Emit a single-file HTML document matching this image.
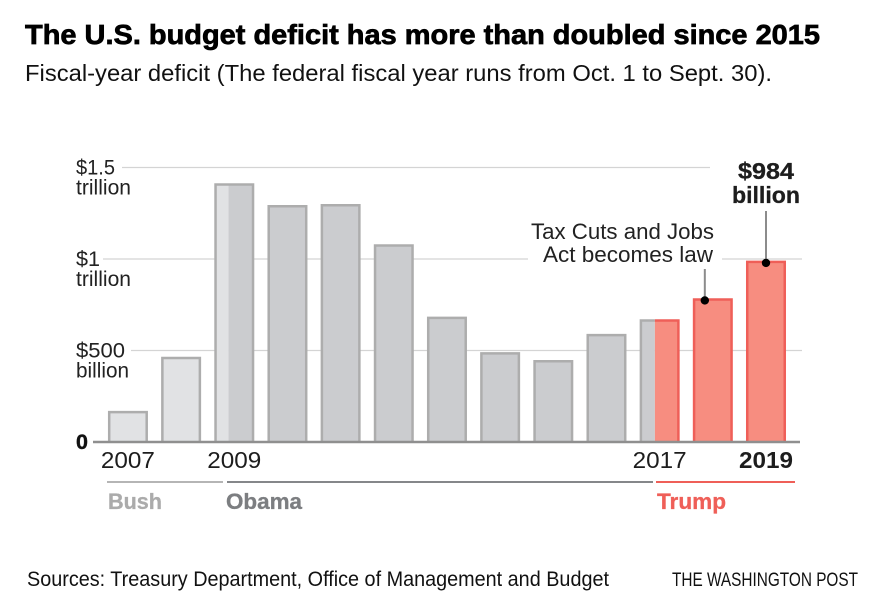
<!DOCTYPE html>
<html lang="en">
<head>
<meta charset="utf-8">
<title>U.S. budget deficit</title>
<style>
html,body{margin:0;padding:0;background:#fff;}
body{width:887px;height:612px;overflow:hidden;}
svg{display:block;font-family:"Liberation Sans",sans-serif;}
</style>
</head>
<body>
<svg id="chart" xmlns="http://www.w3.org/2000/svg" width="887" height="612" viewBox="0 0 887 612">
  <rect width="887" height="612" fill="#fff"/>
  <text x="25" y="44" font-size="27.5" font-weight="700" fill="#000" stroke="#000" stroke-width="0.7" textLength="795" lengthAdjust="spacingAndGlyphs">The U.S. budget deficit has more than doubled since 2015</text>
  <text x="25" y="81" font-size="23.5" fill="#111" textLength="747" lengthAdjust="spacingAndGlyphs">Fiscal-year deficit (The federal fiscal year runs from Oct. 1 to Sept. 30).</text>
  <g id="grid"></g>
  <g id="bars"></g>
  <g id="axis"></g>
  <line x1="107" x2="223" y1="482" y2="482" stroke="#b5b5b5" stroke-width="2"/>
  <line x1="227" x2="653" y1="482" y2="482" stroke="#85878a" stroke-width="2"/>
  <line x1="656" x2="795" y1="482" y2="482" stroke="#ef5f58" stroke-width="2"/>
  <text x="108" y="509" font-size="22" font-weight="700" fill="#ababab" stroke="#ababab" stroke-width="0.3" textLength="54" lengthAdjust="spacingAndGlyphs">Bush</text>
  <text x="226" y="509" font-size="22" font-weight="700" fill="#7c7e81" stroke="#7c7e81" stroke-width="0.3" textLength="76" lengthAdjust="spacingAndGlyphs">Obama</text>
  <text x="657" y="509" font-size="22" font-weight="700" fill="#ef5f58" stroke="#ef5f58" stroke-width="0.3" textLength="69" lengthAdjust="spacingAndGlyphs">Trump</text>
  <g id="annotations"></g>
  <text x="27" y="586" font-size="21" fill="#111" textLength="582" lengthAdjust="spacingAndGlyphs">Sources: Treasury Department, Office of Management and Budget</text>
  <text x="672" y="586" font-size="19" fill="#111" textLength="186" lengthAdjust="spacingAndGlyphs">THE WASHINGTON POST</text>
</svg>
<script>
const years = [2007, 2008, 2009, 2010, 2011, 2012, 2013, 2014, 2015, 2016, 2017, 2018, 2019];
const deficits = [163, 459, 1407, 1288, 1294, 1074, 678, 484, 441, 584, 664, 779, 984];
const gridValues = [500, 1000, 1500];
const tickTop = ['$500', '$1', '$1.5'];
const tickBottom = ['billion', 'trillion', 'trillion'];
const labeledYears = [2007, 2009, 2017, 2019];

const NS = 'http://www.w3.org/2000/svg';
const y0 = 442, pxPerBillion = 183 / 1000;
const x0 = 109.2, step = 53.17, barW = 37.5, strokeW = 2.5;
const yScale = v => y0 - v * pxPerBillion;
const xScale = yr => x0 + (yr - years[0]) * step;

function make(tag, parent, attrs, text) {
  const el = document.createElementNS(NS, tag);
  for (const k in attrs) el.setAttribute(k, attrs[k]);
  if (text !== undefined) el.textContent = text;
  parent.appendChild(el);
  return el;
}
const grid = document.getElementById('grid');
const bars = document.getElementById('bars');
const axis = document.getElementById('axis');
const notes = document.getElementById('annotations');

const gridSpans = [[[131, 802]], [[103, 528], [722, 802]], [[122, 710]]];
const topWidths = [49, 24, 39];
const bottomWidths = [53, 55, 55];
gridValues.forEach((v, i) => {
  gridSpans[i].forEach(s => {
    const l = make('line', grid, {x1: s[0], x2: s[1], y1: yScale(v), y2: yScale(v), stroke: '#d4d4d4', 'stroke-width': 1.3});
    
    
  });
  const t1 = make('text', axis, {x: 76, y: yScale(v) + 7, 'font-size': 21, fill: '#222', textLength: topWidths[i], lengthAdjust: 'spacingAndGlyphs'}, tickTop[i]);
  
  
  const t2 = make('text', axis, {x: 76, y: yScale(v) + 27, 'font-size': 21, fill: '#222', textLength: bottomWidths[i], lengthAdjust: 'spacingAndGlyphs'}, tickBottom[i]);
  
  
});

const colors = {
  bush: ['#e1e2e4', '#adadad'],
  obama: ['#cbcccf', '#adadad'],
  trump: ['#f78d80', '#ef5f58']
};
function segment(x, w, top, fill) {
  const r = make('rect', bars, {x: x, y: top, width: w, height: y0 - top, fill: fill});
  
  
}
function outline(x, top, color) {
  const p = make('path', bars, {d: 'M' + x + ' ' + y0 + 'V' + top + 'H' + (x + barW) + 'V' + y0, fill: 'none', stroke: color, 'stroke-width': strokeW});
  
  
}
years.forEach((yr, i) => {
  const x = xScale(yr), top = yScale(deficits[i]);
  if (yr < 2009) {
    segment(x, barW, top, colors.bush[0]);
    outline(x, top, colors.bush[1]);
  } else if (yr === 2009) {
    segment(x, 13, top, colors.bush[0]);
    segment(x + 13, barW - 13, top, colors.obama[0]);
    outline(x, top, colors.obama[1]);
  } else if (yr === 2017) {
    segment(x, 14, top, colors.obama[0]);
    segment(x + 14, barW - 14, top, colors.trump[0]);
    const g = make('path', bars, {d: 'M' + x + ' ' + y0 + 'V' + top + 'H' + (x + 14), fill: 'none', stroke: colors.obama[1], 'stroke-width': strokeW});
    
    
    const r = make('path', bars, {d: 'M' + (x + 14) + ' ' + top + 'H' + (x + barW) + 'V' + y0, fill: 'none', stroke: colors.trump[1], 'stroke-width': strokeW});
    
    
  } else if (yr > 2017) {
    segment(x, barW, top, colors.trump[0]);
    outline(x, top, colors.trump[1]);
  } else {
    segment(x, barW, top, colors.obama[0]);
    outline(x, top, colors.obama[1]);
  }
});

const base = make('line', axis, {x1: 93, x2: 800, y1: y0, y2: y0, stroke: '#8f8f8f', 'stroke-width': 2.5});


const zero = make('text', axis, {x: 76, y: y0 + 7, 'font-size': 21.5, 'font-weight': 700, fill: '#111', stroke: '#111', 'stroke-width': 0.4}, '0');



labeledYears.forEach(yr => {
  const last = yr === years[years.length - 1];
  const t = make('text', axis, {x: xScale(yr) + barW / 2, y: 468, 'text-anchor': 'middle', 'font-size': 23, 'font-weight': last ? 700 : 400, fill: '#1d1d1d', textLength: 54, lengthAdjust: 'spacingAndGlyphs'}, yr);
  
  
});

function callout(yr, lineTop, offset) {
  const i = years.indexOf(yr), cx = xScale(yr) + barW / 2 + offset, cy = yScale(deficits[i]);
  const l = make('line', notes, {x1: cx, x2: cx, y1: lineTop, y2: cy, stroke: '#8c8c8c', 'stroke-width': 2});
  
  
  const d = make('circle', notes, {cx: cx, cy: cy + 1, r: 4.2, fill: '#000'});
  
  
}
callout(2018, 269, -8);
callout(2019, 211, 0);

const noteA = make('text', notes, {x: 714, y: 239, 'text-anchor': 'end', 'font-size': 22.5, fill: '#222', textLength: 183, lengthAdjust: 'spacingAndGlyphs'}, 'Tax Cuts and Jobs');


const noteB = make('text', notes, {x: 713, y: 262, 'text-anchor': 'end', 'font-size': 22.5, fill: '#222', textLength: 170, lengthAdjust: 'spacingAndGlyphs'}, 'Act becomes law');


const cx19 = xScale(2019) + barW / 2;
const valA = make('text', notes, {x: cx19, y: 179, 'text-anchor': 'middle', 'font-size': 23.5, 'font-weight': 700, fill: '#1d1d1d', stroke: '#1d1d1d', 'stroke-width': 0.3, textLength: 56, lengthAdjust: 'spacingAndGlyphs'}, '$' + deficits[deficits.length - 1]);


const valB = make('text', notes, {x: cx19, y: 203, 'text-anchor': 'middle', 'font-size': 23.5, 'font-weight': 700, fill: '#1d1d1d', stroke: '#1d1d1d', 'stroke-width': 0.3, textLength: 68, lengthAdjust: 'spacingAndGlyphs'}, 'billion');


</script>
</body>
</html>
